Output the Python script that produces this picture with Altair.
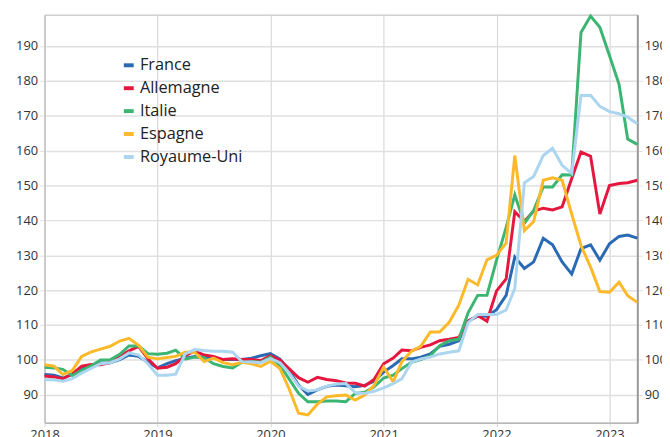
import altair as alt
import pandas as pd

countries = ["France", "Allemagne", "Italie", "Espagne", "Royaume-Uni"]
colors = ["#2a6ab5", "#e5173f", "#3cb572", "#fdb929", "#acd5ef"]

dates = pd.date_range("2018-01-01", periods=64, freq="MS").strftime("%Y-%m-%d").tolist()

france = [95.8, 95.6, 94.8, 95.8, 97.5, 98.4, 99.1, 99.2, 100.1, 101.4, 101.0, 99.3,
          97.7, 98.9, 99.8, 100.5, 101.0, 100.8, 100.5, 100.1, 100.1, 100.1, 100.5, 101.2,
          101.8, 100.2, 97.0, 92.8, 90.1, 91.4, 92.4, 92.8, 92.6, 92.3, 92.7, 93.9,
          96.5, 98.4, 100.3, 100.3, 100.8, 101.7, 103.9, 104.5, 105.5, 111.1, 112.5, 112.5,
          114.4, 118.5, 129.5, 126.2, 128.1, 134.9, 133.0, 128.1, 124.6, 131.9, 133.0, 128.6,
          133.3, 135.4, 135.8, 134.9]
allemagne = [95.4, 95.1, 94.6, 96.0, 98.2, 98.7, 98.6, 99.2, 101.0, 102.6, 103.9, 100.3,
             97.6, 97.9, 98.9, 101.2, 102.6, 101.4, 101.0, 100.1, 100.3, 100.1, 100.1, 99.8,
             101.2, 100.0, 97.5, 94.9, 93.6, 95.0, 94.4, 94.0, 93.4, 93.3, 92.5, 94.4,
             98.9, 100.5, 102.8, 102.6, 103.6, 104.3, 105.5, 105.9, 106.4, 111.1, 112.7, 111.1,
             119.8, 123.2, 142.5, 139.7, 142.7, 143.5, 143.0, 143.9, 152.0, 159.6, 158.4, 141.8,
             150.0, 150.6, 150.8, 151.5]
italie = [97.9, 97.7, 97.3, 95.5, 97.0, 98.3, 100.0, 100.0, 101.6, 104.0, 104.0, 101.8,
          101.6, 101.9, 102.8, 100.2, 100.8, 100.6, 98.9, 98.1, 97.7, 99.3, 99.5, 99.3,
          100.8, 98.4, 94.6, 90.4, 88.0, 88.0, 88.2, 88.2, 88.0, 90.4, 90.7, 92.3,
          94.8, 95.6, 97.5, 99.3, 100.1, 101.2, 104.1, 105.5, 105.9, 113.5, 118.5, 118.5,
          128.6, 138.0, 147.3, 139.2, 142.9, 149.6, 149.6, 153.1, 153.0, 193.9, 198.6, 195.4,
          187.3, 179.0, 163.3, 161.8]
espagne = [98.6, 98.2, 95.8, 97.0, 101.0, 102.3, 103.1, 103.9, 105.4, 106.2, 104.2, 100.8,
           100.3, 100.7, 101.0, 102.2, 102.2, 99.5, 100.5, 99.2, 98.6, 99.3, 98.9, 98.1,
           99.6, 97.5, 91.8, 84.7, 84.2, 87.3, 89.4, 89.7, 89.9, 88.5, 89.9, 92.7,
           97.9, 93.7, 99.5, 102.5, 103.9, 108.0, 108.0, 110.8, 115.7, 123.1, 121.5, 128.7,
           130.0, 133.5, 158.6, 137.1, 139.7, 151.5, 152.2, 151.5, 141.8, 132.8, 126.6, 119.6,
           119.4, 122.3, 118.4, 116.5]
royaume_uni = [94.3, 94.3, 93.9, 94.6, 96.2, 97.6, 98.9, 99.2, 100.3, 102.0, 101.4, 98.9,
               95.6, 95.6, 95.9, 101.7, 103.0, 102.7, 102.5, 102.5, 102.2, 99.5, 99.4, 99.2,
               100.4, 99.2, 96.3, 92.5, 91.1, 91.4, 92.5, 93.1, 93.2, 90.6, 90.4, 91.0,
               92.0, 93.2, 94.6, 99.3, 100.3, 100.8, 101.7, 102.2, 102.6, 110.7, 113.0, 113.0,
               113.0, 114.3, 120.5, 150.8, 152.6, 158.6, 160.7, 155.8, 153.5, 175.8, 175.9, 172.7,
               171.2, 170.6, 169.6, 167.7]

y_ticks = [90, 100, 110, 120, 130, 140, 150, 160, 170, 180, 190]

series = [france, allemagne, italie, espagne, royaume_uni]
rows = []
for k, (name, vals) in enumerate(zip(countries, series)):
    for d, v in zip(dates, vals):
        rows.append({"date": d, "pays": name, "value": v, "ord": k})
df = pd.DataFrame(rows)

x_enc = alt.X(
    "date:T",
    scale=alt.Scale(domain=["2018-01-01", "2023-04-01"]),
    axis=alt.Axis(format="%Y", tickCount={"interval": "year", "step": 1}, title=None,
                  grid=True, gridColor="#d9d9d9", gridWidth=1.2,
                  domainColor="#aaaaaa", tickColor="#d9d9d9", tickSize=4, labelPadding=2,
                  labelAlign="center", labelFlush=False),
)
y_scale = alt.Scale(domain=[82, 199], nice=False, zero=False)

lines = alt.Chart(df).mark_line(strokeWidth=3).encode(
    x=x_enc,
    y=alt.Y("value:Q", scale=y_scale,
            axis=alt.Axis(values=y_ticks, orient="left", title=None, grid=True,
                          gridColor="#e0e0e0", gridWidth=1.5, tickColor="#e0e0e0",
                          tickSize=5, labelPadding=2, domainColor="#bbbbbb")),
    color=alt.Color("pays:N", scale=alt.Scale(domain=countries, range=colors),
                    legend=alt.Legend(title=None, orient="none", legendX=77, legendY=43,
                                      symbolType="stroke", symbolStrokeWidth=4, symbolSize=100,
                                      labelFontSize=16.5, labelFont="Open Sans", labelColor="#222",
                                      rowPadding=6.2, labelOffset=3, padding=0)),
    order=alt.Order("ord:Q"),
    detail="pays:N",
)

right = alt.Chart(df).mark_line(opacity=0).encode(
    x=x_enc,
    y=alt.Y("value:Q", scale=y_scale,
            axis=alt.Axis(values=y_ticks, orient="right", title=None, grid=False,
                          tickColor="#e0e0e0", tickSize=5, labelPadding=2,
                          domainColor="#999999", domainWidth=2)),
    detail="pays:N",
)

chart = alt.layer(lines, right).resolve_scale(y="independent").properties(
    width=600, height=413,
    autosize=alt.AutoSizeParams(type="none"),
    padding={"left": 37, "top": 4, "right": 25, "bottom": 30},
).configure_view(stroke="#b5b5b5", strokeWidth=1).configure_axis(
    labelFont="Open Sans", labelFontSize=13, labelColor="#333333"
)

chart.save("out.html", embed_options={"renderer": "svg", "actions": False})
